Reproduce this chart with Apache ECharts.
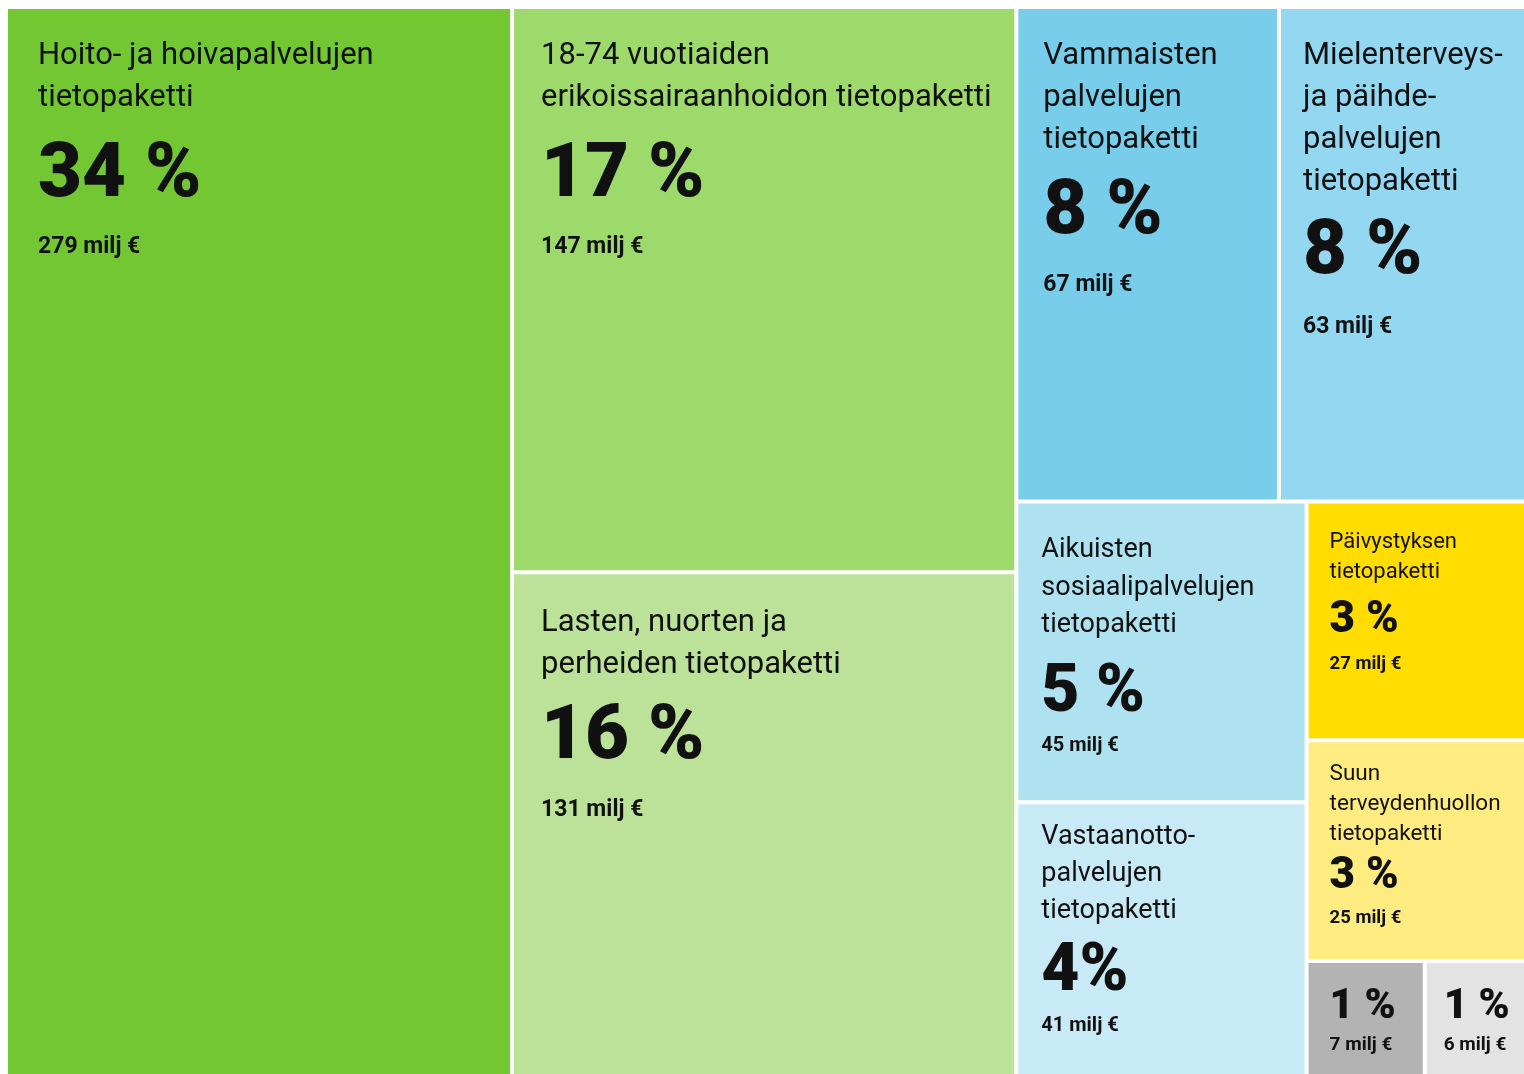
<!DOCTYPE html>
<html>
<head>
<meta charset="utf-8">
<script src="https://cdn.jsdelivr.net/npm/echarts@6/dist/echarts.min.js"></script>
<style>
  html, body { margin: 0; padding: 0; background: #fff; }
  #chart { width: 1524px; height: 1074px; }
</style>
</head>
<body>
<div id="chart"></div>
<script>
// tietopaketit: otsikko, osuus ja summa (milj €)
const names = [
  'Hoito- ja hoivapalvelujen\ntietopaketti',
  '18-74 vuotiaiden\nerikoissairaanhoidon tietopaketti',
  'Lasten, nuorten ja\nperheiden tietopaketti',
  'Vammaisten\npalvelujen\ntietopaketti',
  'Mielenterveys-\nja päihde-\npalvelujen\ntietopaketti',
  'Aikuisten\nsosiaalipalvelujen\ntietopaketti',
  'Päivystyksen\ntietopaketti',
  'Vastaanotto-\npalvelujen\ntietopaketti',
  'Suun\nterveydenhuollon\ntietopaketti',
  '',
  ''
];
const pcts = ['34 %', '17 %', '16 %', '8 %', '8 %', '5 %', '3 %', '4%', '3 %', '1 %', '1 %'];
const milj = [279, 147, 131, 67, 63, 45, 27, 41, 25, 7, 6];

// how the tiles nest (indexes into the arrays above), gives the same split as the original
const groups = [[0, [1, 2]], [3, 4, [[5, 7], [6, 8, [9, 10]]]]];

// tile colours
const colors = ['#72c733', '#9ed96b', '#bbe298', '#78ceea', '#93d8f0', '#aee2f1',
  '#ffdd00', '#c8eaf7', '#ffec80', '#b3b3b3', '#e3e3e3'];

// label look per tile: padTop, padLeft, titleSize, titleLH, pctSize, pctLH, miljSize, miljLH
const labelLook = [
  [26, 30, 31, 42, 76, 116, 23, 24],
  [26, 27, 31, 42, 76, 116, 23, 24],
  [28, 27, 31, 42, 76, 106, 23, 36],
  [26, 25, 31, 42, 76, 106, 23, 36],
  [26, 22, 31, 42, 76, 102, 23, 44],
  [28, 23, 27, 37.5, 66, 101, 20, 2],
  [24, 21, 22, 30, 44, 67, 18.5, 19],
  [15, 23, 27, 37, 66, 87, 20, 18],
  [17, 21, 22.5, 30, 44, 55, 18.5, 29],
  [26, 21, 0, 0, 42, 37, 19, 39],
  [26, 17, 0, 0, 42, 37, 19, 39]
];

const FONT = 'Roboto, "Noto Sans", sans-serif';

function leaf(i) {
  const s = labelLook[i];
  return {
    name: names[i] || pcts[i],
    value: milj[i],
    idx: i,
    itemStyle: { color: colors[i] },
    label: {
      padding: [s[0], 0, 0, s[1]],
      rich: {
        t: { fontFamily: FONT, fontSize: s[2], lineHeight: s[3], color: '#111' },
        p: { fontFamily: FONT, fontSize: s[4], lineHeight: s[5], fontWeight: 900, color: '#111' },
        m: { fontFamily: FONT, fontSize: s[6], lineHeight: s[7], fontWeight: 'bold', color: '#111' }
      }
    }
  };
}

function build(g) {
  if (Array.isArray(g)) {
    return { name: '', children: g.map(build) };
  }
  return leaf(g);
}

const chart = echarts.init(document.getElementById('chart'));
chart.setOption({
  animation: false,
  series: [{
    type: 'treemap',
    left: 8,
    top: 9,
    right: 0,
    bottom: 0,
    sort: false,
    roam: false,
    nodeClick: false,
    silent: true,
    breadcrumb: { show: false },
    itemStyle: { borderWidth: 0, gapWidth: 4, borderColor: '#fff' },
    upperLabel: { show: false },
    label: {
      show: true,
      position: 'insideTopLeft',
      distance: 0,
      overflow: 'none',
      formatter: function (p) {
        const i = p.data.idx;
        let txt = '';
        if (names[i]) {
          txt = names[i].split('\n').map(l => '{t|' + l + '}').join('\n') + '\n';
        }
        return txt + '{p|' + pcts[i] + '}\n{m|' + milj[i] + ' milj €}';
      }
    },
    data: groups.map(build)
  }]
});

window.addEventListener('resize', function () {
  chart.resize();
});
</script>
</body>
</html>
